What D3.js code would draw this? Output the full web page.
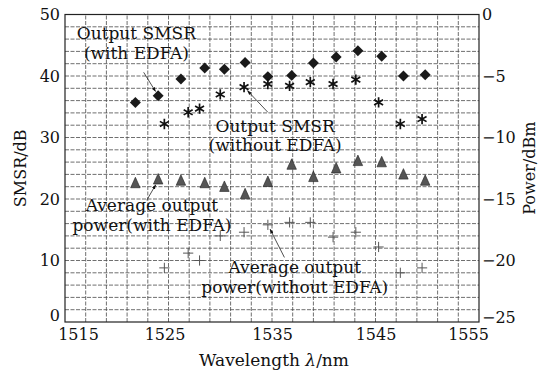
<!DOCTYPE html>
<html>
<head>
<meta charset="utf-8">
<script src="https://cdn.jsdelivr.net/npm/d3@7"></script>
<style>
  body { margin: 0; background: #fff; }
  svg { display: block; font-family: 'DejaVu Serif', serif; }
</style>
</head>
<body>
<svg id="chart" width="539" height="371"></svg>
<script>
// wavelengths (nm) of the two channel sets
const golfA = [1521.8, 1524.0, 1526.2, 1528.5, 1530.4, 1532.4, 1534.6, 1536.9, 1539.0, 1541.2, 1543.3, 1545.6, 1547.7, 1549.8];
const golfB = [1524.6, 1526.9, 1528.0, 1530.0, 1532.3, 1534.6, 1536.7, 1538.7, 1540.9, 1543.1, 1545.3, 1547.4, 1549.5];

// SMSR (dB), left axis
const smsrMet = [35.7, 36.8, 39.5, 41.3, 41.1, 42.2, 39.9, 40.1, 42.1, 43.1, 44.1, 43.2, 40.0, 40.2];
const smsrZonder = [32.2, 34.1, 34.7, 37.0, 38.2, 38.7, 38.4, 39.0, 38.7, 39.4, 35.7, 32.2, 33.0];

// average output power (dBm), right axis
const vermogenMet = [-13.8, -13.5, -13.6, -13.8, -14.1, -14.7, -13.7, -12.3, -13.3, -12.6, -12.0, -12.1, -13.1, -13.6];
const vermogenZonder = [-20.6, -19.4, -20.0, -18.0, -17.7, -17.1, -16.9, -16.9, -18.1, -17.7, -18.9, -21.0, -20.6];

const xTicks = [1515, 1525, 1535, 1545, 1555];
const yTicksL = [0, 10, 20, 30, 40, 50];
const yTicksR = [0, -5, -10, -15, -20, -25];

const breedte = 539, hoogte = 371;
const m = { left: 65, right: 60, top: 14.5, bottom: 49 };

const svg = d3.select('#chart');

const x = d3.scaleLinear().domain([1515, 1555]).range([m.left, breedte - m.right]);
const yL = d3.scaleLinear().domain([0, 50]).range([hoogte - m.bottom, m.top]);
const yR = d3.scaleLinear().domain([-25, 0]).range([hoogte - m.bottom, m.top]);

// grid
const raster = svg.append('g')
    .attr('stroke', '#4a4a4a')
    .attr('stroke-width', 0.8)
    .attr('stroke-dasharray', '4,1.5');

raster.selectAll('.v').data(d3.range(1517, 1555, 2)).join('line')
    .attr('x1', d => x(d)).attr('x2', d => x(d))
    .attr('y1', yL(0)).attr('y2', yL(50));

raster.selectAll('.h').data(d3.range(2, 50, 2)).join('line')
    .attr('y1', d => yL(d)).attr('y2', d => yL(d))
    .attr('x1', x(1515)).attr('x2', x(1555));

// frame
svg.append('rect')
    .attr('x', x(1515)).attr('y', yL(50))
    .attr('width', x(1555) - x(1515)).attr('height', yL(0) - yL(50))
    .attr('fill', 'none').attr('stroke', '#222').attr('stroke-width', 1.2);

// axes
const asX = svg.append('g')
    .attr('transform', `translate(0,${yL(0)})`)
    .call(d3.axisBottom(x).tickValues(xTicks).tickSize(0).tickPadding(7).tickFormat(d3.format('d')));
asX.selectAll('text').attr('dx', (d, i) => i === 0 ? 13 : (i === xTicks.length - 1 ? -11 : (i === 1 ? -4 : 0)));

const asL = svg.append('g')
    .attr('transform', `translate(${x(1515)},0)`)
    .call(d3.axisLeft(yL).tickValues(yTicksL).tickSize(0).tickPadding(5));
asL.selectAll('text').attr('dy', d => d === 0 ? '-0.1em' : '0.32em');

const asR = svg.append('g')
    .attr('transform', `translate(${x(1555)},0)`)
    .call(d3.axisRight(yR).tickValues(yTicksR).tickSize(0).tickPadding(3)
        .tickFormat(d => d < 0 ? '\u2212' + Math.abs(d) : d));
asR.selectAll('text').attr('dy', d => d === -25 ? '0.05em' : '0.32em');

[asX, asL, asR].forEach(a => {
    a.select('.domain').remove();
    a.selectAll('text').attr('font-size', 16).attr('fill', '#111')
        .attr('font-family', "'DejaVu Serif', serif");
});

// axis titles
svg.append('text')
    .attr('transform', `translate(26,${(yL(0) + yL(50)) / 2}) rotate(-90)`)
    .attr('text-anchor', 'middle').attr('font-size', 16).attr('fill', '#111')
    .text('SMSR/dB');

svg.append('text')
    .attr('transform', `translate(535,${(yL(0) + yL(50)) / 2}) rotate(-90)`)
    .attr('text-anchor', 'middle').attr('font-size', 16).attr('fill', '#111')
    .text('Power/dBm');

const xTitel = svg.append('text')
    .attr('x', (x(1515) + x(1555)) / 2 + 2).attr('y', 366)
    .attr('text-anchor', 'middle').attr('font-size', 17).attr('fill', '#111');
xTitel.append('tspan').text('Wavelength ');
xTitel.append('tspan').attr('font-style', 'italic').text('λ');
xTitel.append('tspan').text('/nm');

// markers
const punten = svg.append('g');

punten.selectAll('.ruit').data(golfA).join('path')
    .attr('d', d3.symbol(d3.symbolSquare, 60))
    .attr('transform', (d, i) => `translate(${x(d)},${yL(smsrMet[i])}) rotate(45)`)
    .attr('fill', '#1a1a1a');

punten.selectAll('.ster').data(golfB).join('path')
    .attr('d', d3.symbol(d3.symbolAsterisk, 75))
    .attr('transform', (d, i) => `translate(${x(d)},${yL(smsrZonder[i])})`)
    .attr('fill', 'none').attr('stroke', '#111').attr('stroke-width', 1.7);

punten.selectAll('.drie').data(golfA).join('path')
    .attr('d', d3.symbol(d3.symbolTriangle, 48))
    .attr('transform', (d, i) => `translate(${x(d)},${yR(vermogenMet[i])}) scale(0.9,1.15)`)
    .attr('fill', '#555').attr('stroke', '#222').attr('stroke-width', 0.6);

punten.selectAll('.plus').data(golfB).join('path')
    .attr('d', d3.symbol(d3.symbolPlus, 36))
    .attr('transform', (d, i) => `translate(${x(d)},${yR(vermogenZonder[i])})`)
    .attr('fill', 'none').attr('stroke', '#555').attr('stroke-width', 1);

// annotations
svg.append('defs').append('marker')
    .attr('id', 'pijl').attr('viewBox', '0 0 10 10')
    .attr('refX', 9).attr('refY', 5)
    .attr('markerWidth', 6).attr('markerHeight', 6)
    .attr('orient', 'auto')
    .append('path').attr('d', 'M0,1.5 L10,5 L0,8.5 Z').attr('fill', '#111');

const notities = [
    { regels: ['Output SMSR', '(with EDFA)'], tx: 1521.9, ty: 46.0, van: [1522.6, 40.6], naar: [golfA[1], smsrMet[1]], schaal: yL },
    { regels: ['Output SMSR', '(without EDFA)'], tx: 1535.3, ty: 30.9, van: [1534.6, 34.1], naar: [golfB[4], smsrZonder[4]], schaal: yL },
    { regels: ['Average output', 'power(with EDFA)'], tx: 1523.4, ty: 18.0, van: [1522.9, 19.8], naar: [golfA[1], vermogenMet[1]], schaal: yR },
    { regels: ['Average output', 'power(without EDFA)'], tx: 1537.2, ty: 7.9, van: [1536.2, 10.5], naar: [golfB[5], vermogenZonder[5]], schaal: yR },
];

notities.forEach(n => {
    const t = svg.append('text')
        .attr('x', x(n.tx)).attr('y', yL(n.ty))
        .attr('text-anchor', 'middle').attr('font-size', 17).attr('fill', '#111');
    n.regels.forEach((r, i) => t.append('tspan').attr('x', x(n.tx)).attr('dy', i ? 19.5 : 0).text(r));

    const x1 = x(n.van[0]), y1 = yL(n.van[1]);
    let x2 = x(n.naar[0]), y2 = n.schaal(n.naar[1]);
    const len = Math.hypot(x2 - x1, y2 - y1);
    x2 -= (x2 - x1) / len * 5;
    y2 -= (y2 - y1) / len * 5;
    svg.append('line')
        .attr('x1', x1).attr('y1', y1).attr('x2', x2).attr('y2', y2)
        .attr('stroke', '#222').attr('stroke-width', 0.8)
        .attr('marker-end', 'url(#pijl)');
});
</script>
</body>
</html>
